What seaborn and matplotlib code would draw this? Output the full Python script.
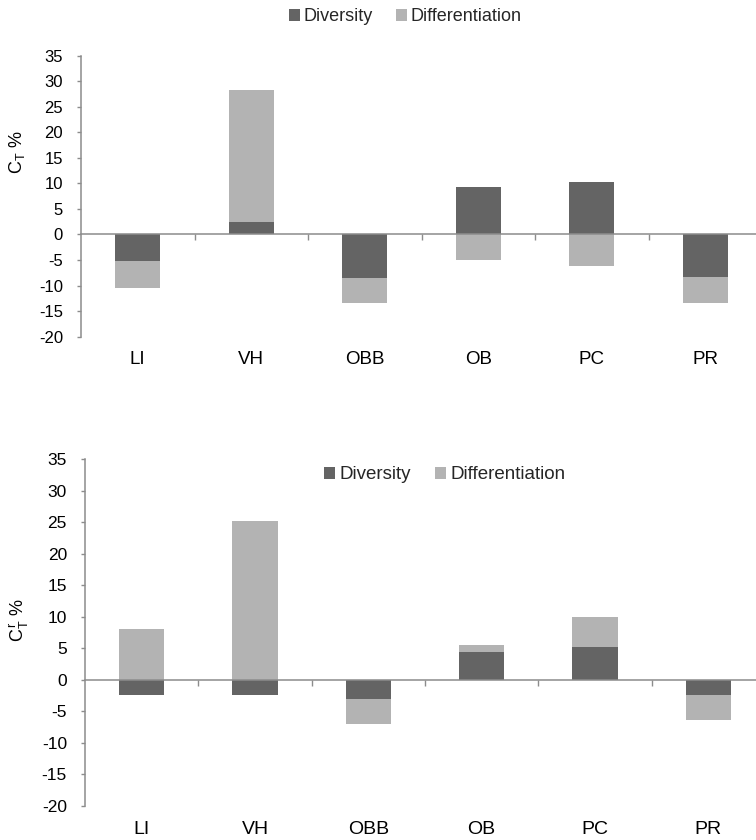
import matplotlib
matplotlib.use("Agg")
import matplotlib.pyplot as plt
import seaborn as sns
import numpy as np
from matplotlib.patches import Patch

# ---- data ----
categories = ["LI", "VH", "OBB", "OB", "PC", "PR"]
top_diversity = [-5.1, 2.4, -8.6, 9.2, 10.2, -8.4]
top_differentiation = [-5.3, 25.9, -4.8, -5.0, -6.2, -5.0]
bottom_diversity = [-2.4, -2.4, -3.1, 4.5, 5.2, -2.4]
bottom_differentiation = [8.1, 25.2, -3.9, 1.0, 4.8, -4.0]
y_ticks = [-20, -15, -10, -5, 0, 5, 10, 15, 20, 25, 30, 35]
series_names = ["Diversity", "Differentiation"]

DARK = "#646464"
LIGHT = "#b3b3b3"
GRAY = "#8c8c8c"

sns.set_theme(style="white")
plt.rcParams["font.family"] = ["Liberation Sans", "DejaVu Sans"]
plt.rcParams["mathtext.fontset"] = "custom"
plt.rcParams["mathtext.rm"] = "Liberation Sans"
plt.rcParams["mathtext.it"] = "Liberation Sans:italic"

fig = plt.figure(figsize=(7.56, 8.4), dpi=100)
ax1 = fig.add_axes([81 / 756, 1 - 336.7 / 840, 681 / 756, 281.2 / 840])
ax2 = fig.add_axes([85 / 756, 1 - 806 / 840, 680 / 756, 346.7 / 840])


def draw_panel(ax, div, diff, ylabel, ytick_fs, cat_fs, lab_xy, cat_pad):
    div = np.asarray(div, dtype=float)
    diff = np.asarray(diff, dtype=float)
    same_sign = np.sign(div) == np.sign(diff)
    light_top = np.where(same_sign, div + diff, diff)
    sns.barplot(x=categories, y=light_top, color=LIGHT, width=0.4,
                saturation=1, linewidth=0, ax=ax)
    sns.barplot(x=categories, y=div, color=DARK, width=0.4,
                saturation=1, linewidth=0, ax=ax)
    ax.set_xlim(-0.5, len(categories) - 0.5)
    ax.set_ylim(y_ticks[0], y_ticks[-1])
    ax.set_yticks(y_ticks)
    ax.set_yticklabels([str(t) for t in y_ticks])
    for s in ["top", "right"]:
        ax.spines[s].set_visible(False)
    ax.spines["left"].set_color(GRAY)
    ax.spines["left"].set_linewidth(1.1)
    ax.spines["bottom"].set_position(("data", 0))
    ax.spines["bottom"].set_color(GRAY)
    ax.spines["bottom"].set_linewidth(1.1)
    bounds = [i + 0.5 for i in range(len(categories))]
    ax.set_xticks(bounds)
    ax.set_xticklabels([""] * len(bounds))
    ax.tick_params(axis="x", bottom=True, direction="out", length=4,
                   width=1, color=GRAY)
    ax.tick_params(axis="y", left=True, direction="out", length=3,
                   width=1, color=GRAY, pad=10, labelsize=ytick_fs,
                   labelcolor="black")
    ax.set_xlabel("")
    ax.set_ylabel(ylabel, fontsize=13, color="black")
    ax.yaxis.set_label_coords(*lab_xy)
    sec = ax.secondary_xaxis("bottom")
    sec.set_xticks(range(len(categories)))
    sec.set_xticklabels(categories)
    sec.tick_params(length=0, pad=cat_pad, labelsize=cat_fs,
                    labelcolor="black")
    sec.spines["bottom"].set_visible(False)


draw_panel(ax1, top_diversity, top_differentiation,
           r"C$_\mathrm{T}$ %", 12, 13.5, (-0.080, 0.657), 10.5)
draw_panel(ax2, bottom_diversity, bottom_differentiation,
           r"C$_\mathrm{T}^{\,\mathrm{r}}$ %", 12.5, 14, (-0.079, 0.536), 10.5)

handles = [Patch(facecolor=DARK, edgecolor="none", label=series_names[0]),
           Patch(facecolor=LIGHT, edgecolor="none", label=series_names[1])]
fig.legend(handles=handles, loc="center", bbox_to_anchor=(0.536, 0.980),
           ncol=2, frameon=False, handlelength=0.6, handleheight=0.6,
           handletextpad=0.2, columnspacing=1.3, fontsize=13)
ax2.legend(handles=handles, loc="center", bbox_to_anchor=(0.529, 0.955),
           ncol=2, frameon=False, handlelength=0.6, handleheight=0.6,
           handletextpad=0.2, columnspacing=1.3, fontsize=13.5)

fig.savefig("out.png", dpi=100)
